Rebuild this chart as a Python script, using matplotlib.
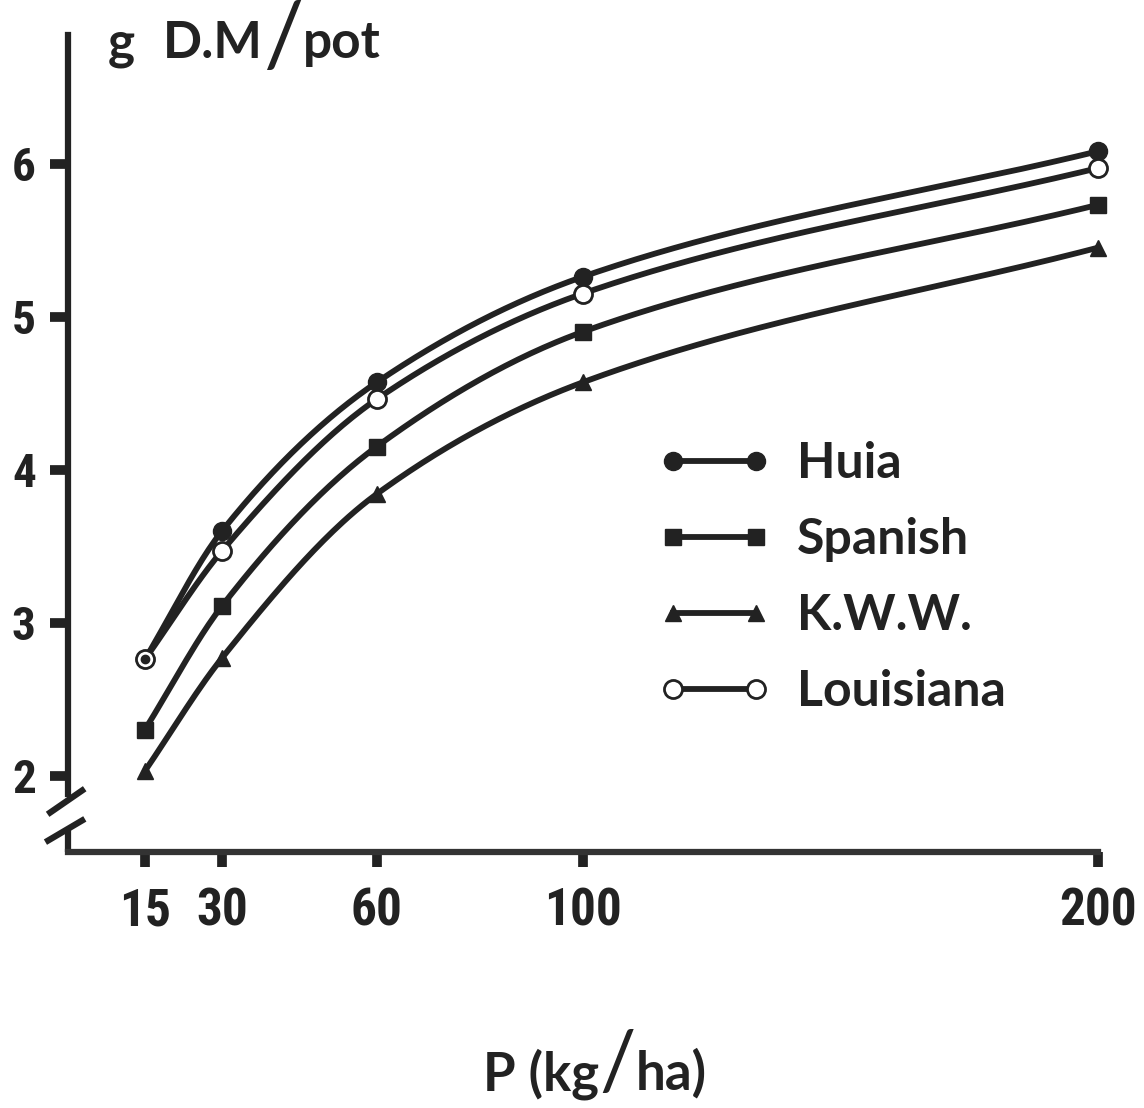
import numpy as np
import matplotlib
matplotlib.use('Agg')
import matplotlib.pyplot as plt
from matplotlib import font_manager

# P applied (kg/ha) and dry matter yield (g D.M/pot) per cultivar
p_rates = [15, 30, 60, 100, 200]
huia = [2.76, 3.60, 4.57, 5.26, 6.08]
spanish = [2.30, 3.11, 4.15, 4.90, 5.73]
kww = [2.03, 2.77, 3.84, 4.57, 5.45]
louisiana = [2.76, 3.47, 4.46, 5.15, 5.97]
y_ticks = [2, 3, 4, 5, 6]

INK = '#222222'

installed = {f.name for f in font_manager.fontManager.ttflist}


def pick(cands):
    for c in cands:
        if c in installed:
            return c
    return 'DejaVu Sans'


NUM_FONT = [pick(['Roboto Condensed', 'Liberation Sans Narrow', 'Open Sans Condensed', 'Roboto']), 'DejaVu Sans']
TXT_FONT = [pick(['Lato', 'Open Sans']), 'DejaVu Sans']


def smooth(x, y, n=300):
    # monotone cubic (Fritsch-Carlson) so the curves pass through every point
    x = np.asarray(x, float)
    y = np.asarray(y, float)
    h = np.diff(x)
    d = np.diff(y) / h
    m = np.zeros_like(y)
    m[0], m[-1] = d[0], d[-1]
    for i in range(1, len(x) - 1):
        if d[i - 1] * d[i] > 0:
            w1 = 2 * h[i] + h[i - 1]
            w2 = h[i] + 2 * h[i - 1]
            m[i] = (w1 + w2) / (w1 / d[i - 1] + w2 / d[i])
    xs = np.linspace(x[0], x[-1], n)
    k = np.clip(np.searchsorted(x, xs) - 1, 0, len(x) - 2)
    t = (xs - x[k]) / h[k]
    h00 = 2 * t**3 - 3 * t**2 + 1
    h10 = t**3 - 2 * t**2 + t
    h01 = -2 * t**3 + 3 * t**2
    h11 = t**3 - t**2
    ys = h00 * y[k] + h10 * h[k] * m[k] + h01 * y[k + 1] + h11 * h[k] * m[k + 1]
    return xs, ys


W, H = 1144, 1108
fig = plt.figure(figsize=(W / 100, H / 100), dpi=100)
ax = fig.add_axes([67.7 / W, 1 - 852 / H, (1098 - 67.7) / W, (852 - 35) / H])
renderer = fig.canvas.get_renderer()

ax.set_xlim(0, 200)
ax.set_ylim(1.5, 6.84)

series = [
    ('Huia', huia, dict(marker='o', ms=13, mfc=INK, mec=INK)),
    ('Spanish', spanish, dict(marker='s', ms=11, mfc=INK, mec=INK)),
    ('K.W.W.', kww, dict(marker='^', ms=12, mfc=INK, mec=INK)),
    ('Louisiana', louisiana, dict(marker='o', ms=13, mfc='white', mec=INK, mew=2)),
]

handles = []
for i, (name, vals, mk) in enumerate(series):
    xs, ys = smooth(p_rates, vals)
    ax.plot(xs, ys, color=INK, lw=4.2, solid_capstyle='round', zorder=2 + i)
    ax.plot(p_rates, vals, ls='none', zorder=6 + i, clip_on=False, **mk)
    h, = ax.plot([], [], color=INK, lw=4.2, **mk)
    handles.append(h)

# Huia and Louisiana coincide at the lowest rate: dot inside the open circle
ax.plot(p_rates[0], huia[0], 'o', ms=6, color=INK, zorder=12)

# axes: thick spines, left one broken near the bottom
for s in ['top', 'right']:
    ax.spines[s].set_visible(False)
ax.spines['bottom'].set_linewidth(4.5)
ax.spines['bottom'].set_color('#333333')
ax.spines['left'].set_linewidth(4.5)
ax.spines['left'].set_color(INK)
ax.spines['left'].set_bounds(1.88, 6.84)
ax.plot([0, 0], [1.5, 1.66], color=INK, lw=4.5, solid_capstyle='butt', clip_on=False)
ax.plot([-3.4, 2.8], [1.758, 1.902], color=INK, lw=4.5, clip_on=False)
ax.plot([-3.8, 2.8], [1.575, 1.706], color=INK, lw=4.5, clip_on=False)

ax.set_xticks(p_rates)
ax.set_xticklabels([str(v) for v in p_rates])
ax.set_yticks(y_ticks)
ax.set_yticklabels([str(v) for v in y_ticks])
ax.tick_params(axis='x', length=11, width=7, color=INK, pad=14)
ax.tick_params(axis='y', length=13, width=7, color=INK, pad=10)
for lab in ax.get_xticklabels():
    lab.set_family(NUM_FONT)
    lab.set_fontweight('bold')
    lab.set_fontsize(37)
    lab.set_color(INK)
for lab in ax.get_yticklabels():
    lab.set_family(NUM_FONT)
    lab.set_fontweight('bold')
    lab.set_fontsize(34)
    lab.set_color(INK)

leg = ax.legend(handles, [s[0] for s in series], numpoints=2, frameon=False,
                loc='upper left', bbox_to_anchor=(658 / W, 1 - 441 / H),
                bbox_transform=fig.transFigure, borderpad=0, borderaxespad=0,
                handlelength=2.26, handletextpad=0.52, labelspacing=0.62,
                prop=dict(family=TXT_FONT, weight='bold', size=36))
for t in leg.get_texts():
    t.set_color(INK)


def label_run(parts, x0):
    # lay out text pieces left to right, each starting where the last ended
    x = x0
    for s, y, kw, gap in parts:
        t = fig.text(x / W, 1 - y / H, s, color=INK, family=TXT_FONT, **kw)
        bb = t.get_window_extent(renderer)
        x = bb.x1 + gap


title_bold = dict(weight='bold', size=37, va='baseline')
xlab_bold = dict(weight='bold', size=38, va='baseline')
slash = dict(weight='normal', size=64, va='center')
xlab_slash = dict(weight='normal', size=58, va='center')

# y-axis title and x-axis title with tall slashes
label_run([('g', 58, title_bold, 28),
           ('D.M', 58, title_bold, 0),
           ('/', 41, slash, 0),
           ('pot', 58, title_bold, 0)], 108)
label_run([('P (kg', 1090, xlab_bold, 0),
           ('/', 1066, xlab_slash, 0),
           ('ha)', 1090, xlab_bold, 0)], 483)

fig.savefig('out.png', dpi=100, facecolor='white')
